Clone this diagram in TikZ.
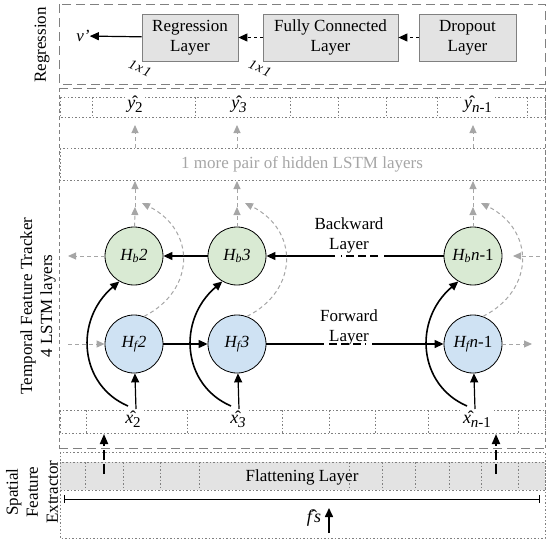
\documentclass[tikz,border=0pt]{standalone}
\usepackage{fontspec}
\setmainfont{Liberation Serif}
\usetikzlibrary{arrows.meta}
\definecolor{boxgray}{HTML}{E3E3E3}
\definecolor{gborder}{HTML}{808080}
\definecolor{garr}{HTML}{A6A6A6}
\definecolor{hbfill}{HTML}{D9EAD3}
\definecolor{hffill}{HTML}{CFE2F3}
\newcommand\mysubs[1]{\raisebox{-4pt}{\fontsize{15}{15}\selectfont #1}}
\begin{document}
\begin{tikzpicture}[x=1pt,y=-1pt,
  font=\fontsize{17}{20}\selectfont,
  layerbox/.style={draw=gborder, fill=boxgray, line width=0.8pt, align=center, inner sep=0pt, minimum height=47pt},
  hcirc/.style={circle, draw=black, line width=0.8pt, minimum size=58pt, inner sep=0pt},
  blk/.style={line width=1.6pt, -{Triangle[length=9pt,width=8pt]}},
  blkthin/.style={line width=1.2pt, -{Triangle[length=9pt,width=8pt]}},
  garrow/.style={draw=garr, line width=1pt, dash pattern=on 4pt off 3pt, -{Triangle[length=8pt,width=7pt]}},
  dotline/.style={draw=gborder, line width=0.8pt, dash pattern=on 1.5pt off 2pt},
  longdash/.style={draw=gborder, line width=0.9pt, dash pattern=on 9pt off 5pt},
  middash/.style={draw=gborder, line width=0.8pt, dash pattern=on 4pt off 3pt},
  lbl/.style={inner sep=0pt},
  hatlbl/.style={inner sep=1pt, fill=white, font=\fontsize{18}{20}\selectfont},
  oneby/.style={inner sep=0pt, rotate=-25, font=\fontsize{14}{14}\selectfont\itshape},
  thickdash/.style={line width=2.4pt, dash pattern=on 8pt off 4pt}
]
\useasboundingbox (0,0) rectangle (550,546);

% ---------------- Regression ----------------
\draw[longdash] (59,4) rectangle (545,84);
\node[lbl, rotate=90] (lreg) at (42,45) {Regression};
\node[layerbox, minimum width=96pt] (reg) at (190,37.5) {Regression\\Layer};
\node[layerbox, minimum width=135pt] (fc) at (330.5,37.5) {Fully Connected\\Layer};
\node[layerbox, minimum width=97pt] (drop) at (467.5,37.5) {Dropout\\Layer};
\node[lbl] (vp) at (83,36) {\textit{v'}};
\draw[blkthin, dashed] (drop) -- (fc);
\draw[blkthin, dashed] (fc) -- (reg);
\draw[blkthin] (reg) -- (vp);
\node[oneby] (o1) at (140,68) {1\kern1.5pt x\kern1.5pt 1};
\node[oneby] (o2) at (260,68) {1\kern1.5pt x\kern1.5pt 1};

% ---------------- Temporal feature tracker ----------------
\draw[longdash] (59,88) -- (545,88);
\draw[longdash] (59,448) -- (545,448);
\draw[middash] (59,88) -- (59,448);
\draw[middash] (545,88) -- (545,448);
\node[lbl, rotate=90, align=center] (ltemp) at (38,306) {Temporal Feature Tracker\\4 LSTM layers};

% y-hat row
\draw[dotline] (60,97) rectangle (545,117);
\foreach \xx in {92,195,290,338,386,437,527} \draw[dotline] (\xx,97) -- (\xx,117);
\node[hatlbl] (y2) at (135,104) {\^{\textit{y}}\mysubs{2}};
\node[hatlbl] (y3) at (239,104) {\^{\textit{y}}\mysubs{\textit{3}}};
\node[hatlbl] (yn) at (478,104) {\^{\textit{y}}\mysubs{\textit{n}-1}};

% 1 more pair box
\draw[dotline] (60,148) rectangle (545,180);
\node[lbl, text=garr] (more) at (302,164) {1 more pair of hidden LSTM layers};

\foreach \xx/\nm in {135/a,237/b,473/c} {
  \coordinate (ub\nm) at (\xx,148);
  \coordinate (ut\nm) at (\xx,125);
  \draw[garrow] (ub\nm) -- (ut\nm);
  \coordinate (mb\nm) at (\xx,207);
  \coordinate (mt\nm) at (\xx,181);
  \draw[garrow] (mb\nm) -- (mt\nm);
}

% LSTM nodes
\node[hcirc, fill=hbfill] (hb2) at (134,256) {\textit{H\textsubscript{b}2}};
\node[hcirc, fill=hbfill] (hb3) at (237,256) {\textit{H\textsubscript{b}3}};
\node[hcirc, fill=hbfill] (hbn) at (473,256) {\textit{H\textsubscript{b}n}-1};
\node[hcirc, fill=hffill] (hf2) at (134,344) {\textit{H\textsubscript{f}2}};
\node[hcirc, fill=hffill] (hf3) at (237,344) {\textit{H\textsubscript{f}3}};
\node[hcirc, fill=hffill] (hfn) at (473,344) {\textit{H\textsubscript{f}n}-1};

\draw[garrow] (hb2) -- (mba);
\draw[garrow] (hb3) -- (mbb);
\draw[garrow] (hbn) -- (mbc);

% backward layer
\node[lbl, align=center] (bwl) at (349,235) {Backward\\Layer};
\coordinate (bw1) at (384,256);
\coordinate (bw2) at (378,256);
\coordinate (bw3) at (341,256);
\coordinate (bw4) at (335,256);
\draw[line width=1.2pt] (hbn) -- (bw1);
\draw[thickdash] (bw2) -- (bw3);
\draw[blkthin] (bw4) -- (hb3);
\draw[blkthin] (hb3) -- (hb2);

% forward layer
\node[lbl, align=center] (fwl) at (349,327) {Forward\\Layer};
\coordinate (fw1) at (324,344);
\coordinate (fw2) at (329,344);
\coordinate (fw3) at (366,344);
\coordinate (fw4) at (372,344);
\draw[line width=1.2pt] (hf3) -- (fw1);
\draw[thickdash] (fw2) -- (fw3);
\draw[blkthin] (fw4) -- (hfn);
\draw[blkthin] (hf2) -- (hf3);

% side gray arrows
\coordinate (lb) at (68,256);
\coordinate (lf) at (68,344);
\coordinate (rb) at (540,256);
\coordinate (rbe) at (513,256);
\coordinate (rf) at (532,344);
\draw[garrow] (hb2) -- (lb);
\draw[garrow] (lf) -- (hf2);
\draw[garrow] (rb) -- (rbe);
\draw[garrow] (hfn) -- (rf);

% curves
\foreach \xx/\b/\f in {134/hb2/hf2, 237/hb3/hf3, 473/hbn/hfn} {
  \coordinate (cs) at (\xx-6,406);
  \draw[blk] (cs) .. controls (\xx-55,385) and (\xx-60,320) .. (\b.240);
  \coordinate (ce) at (\xx+8,203);
  \draw[garrow] (\f.70) .. controls (\xx+62,290) and (\xx+62,230) .. (ce);
  \coordinate (ib) at (\xx+2,409);
  \draw[blkthin] (ib) -- (\f);
}

% x-hat row
\draw[dotline] (60,410) rectangle (545,433);
\foreach \xx in {86,187,282,329,375,428,518} \draw[dotline] (\xx,410) -- (\xx,433);
\node[hatlbl] (x2) at (133,419) {\^{\textit{x}}\mysubs{2}};
\node[hatlbl] (x3) at (238,419) {\^{\textit{x}}\mysubs{\textit{3}}};
\node[hatlbl] (xn) at (477,419) {\^{\textit{x}}\mysubs{\textit{n}-1}};

% ---------------- Spatial feature extractor ----------------
\draw[dotline] (60,452) rectangle (545,538);
\node[lbl, rotate=90, align=center] (lsp) at (32,492) {Spatial\\Feature\\Extractor};
\fill[boxgray] (60,462) rectangle (545,490);
\draw[dotline] (60,462) rectangle (545,490);
\foreach \xx in {85,123,160,199,349,382,415,449,481,518} \draw[dotline] (\xx,462) -- (\xx,490);
\node[lbl] (flat) at (302,477) {Flattening Layer};

\coordinate (fa1) at (104,474);
\coordinate (fa2) at (104,434);
\coordinate (fb1) at (496,474);
\coordinate (fb2) at (496,434);
\draw[line width=1.8pt, dash pattern=on 10pt off 4pt, -{Triangle[length=10pt,width=8pt]}] (fa1) -- (fa2);
\draw[line width=1.8pt, dash pattern=on 10pt off 4pt, -{Triangle[length=10pt,width=8pt]}] (fb1) -- (fb2);

\coordinate (m1) at (64,499);
\coordinate (m2) at (540,499);
\draw[line width=1pt, {Bar[width=8pt]}-{Bar[width=8pt]}] (m1) -- (m2);
\node[lbl, font=\fontsize{18}{20}\selectfont] (fs) at (314,518) {\^{\textit{f}}\textit{s}};
\coordinate (fsa) at (329,533);
\coordinate (fsb) at (329,508);
\draw[blk] (fsa) -- (fsb);

\end{tikzpicture}
\end{document}
